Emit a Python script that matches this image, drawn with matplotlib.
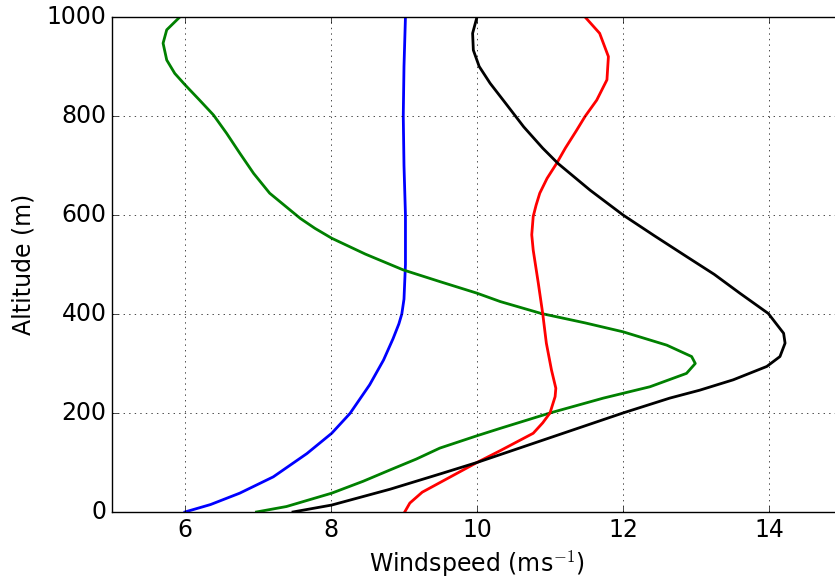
import matplotlib
matplotlib.use('Agg')
import matplotlib.pyplot as plt

# altitude (m) / windspeed (m/s) pairs
blue_alt = [0, 15, 38, 71, 118, 159, 199, 257, 307, 350, 380, 400, 430, 500, 600, 700, 800, 900, 1000]
blue_ws = [6.0, 6.35, 6.75, 7.21, 7.67, 8.01, 8.26, 8.53, 8.72, 8.85, 8.93, 8.97, 9.0,
           9.02, 9.02, 9.0, 8.99, 9.0, 9.02]

green_alt = [0, 11, 38, 62, 85, 107, 129, 154, 169, 200, 230, 253, 280, 300, 314, 337, 364, 382,
             401, 425, 442, 465, 489, 521, 553, 573, 593, 644, 684, 725, 765, 802, 832, 863,
             886, 913, 947, 974, 1000]
green_ws = [6.98, 7.39, 8.01, 8.44, 8.81, 9.17, 9.49, 10.0, 10.32, 11.0, 11.73, 12.37, 12.87,
            12.99, 12.94, 12.6, 12.0, 11.48, 10.88, 10.32, 10.0, 9.5, 8.99, 8.47, 8.01, 7.78,
            7.58, 7.16, 6.94, 6.75, 6.57, 6.39, 6.2, 6.0, 5.86, 5.75, 5.70, 5.75, 5.93]

red_alt = [0, 18, 40, 60, 80, 100, 124, 159, 180, 200, 233, 250, 287, 341, 401, 462, 529, 560,
           597, 620, 644, 674, 704, 735, 770, 799, 832, 873, 920, 967, 1000]
red_ws = [9.01, 9.08, 9.25, 9.5, 9.75, 10.0, 10.32, 10.77, 10.9, 11.0, 11.07, 11.08, 11.02,
          10.95, 10.9, 10.84, 10.77, 10.75, 10.77, 10.81, 10.86, 10.96, 11.09, 11.21, 11.36,
          11.48, 11.64, 11.78, 11.8, 11.68, 11.48]

black_alt = [0, 14, 46, 78, 100, 117, 150, 200, 230, 246, 267, 294, 314, 341, 361, 401, 442,
             480, 516, 558, 600, 650, 704, 735, 778, 826, 866, 900, 933, 967, 1000]
black_ws = [7.48, 8.01, 8.81, 9.52, 10.0, 10.34, 11.0, 12.0, 12.64, 13.05, 13.51, 13.97, 14.15,
            14.22, 14.2, 13.99, 13.6, 13.25, 12.87, 12.43, 12.0, 11.55, 11.11, 10.9, 10.64,
            10.39, 10.18, 10.03, 9.95, 9.94, 10.0]

plt.style.use('classic')
plt.rcParams['font.size'] = 17

fig = plt.figure(figsize=(8.35, 5.81), dpi=100, facecolor='white')
ax = fig.add_axes([0.1341, 0.1188, 0.8743, 0.852])

ax.plot(blue_ws, blue_alt, color='b', lw=2)
ax.plot(green_ws, green_alt, color='g', lw=2)
ax.plot(red_ws, red_alt, color='r', lw=2)
ax.plot(black_ws, black_alt, color='k', lw=2)

ax.set_xlim(5, 15)
ax.set_ylim(0, 1000)
ax.set_xticks([6, 8, 10, 12, 14])
ax.set_yticks([0, 200, 400, 600, 800, 1000])
ax.grid(True)
ax.set_xlabel('Windspeed (ms$^{-1}$)')
ax.set_ylabel('Altitude (m)', labelpad=8)

fig.savefig('out.png', dpi=100, facecolor='white')
